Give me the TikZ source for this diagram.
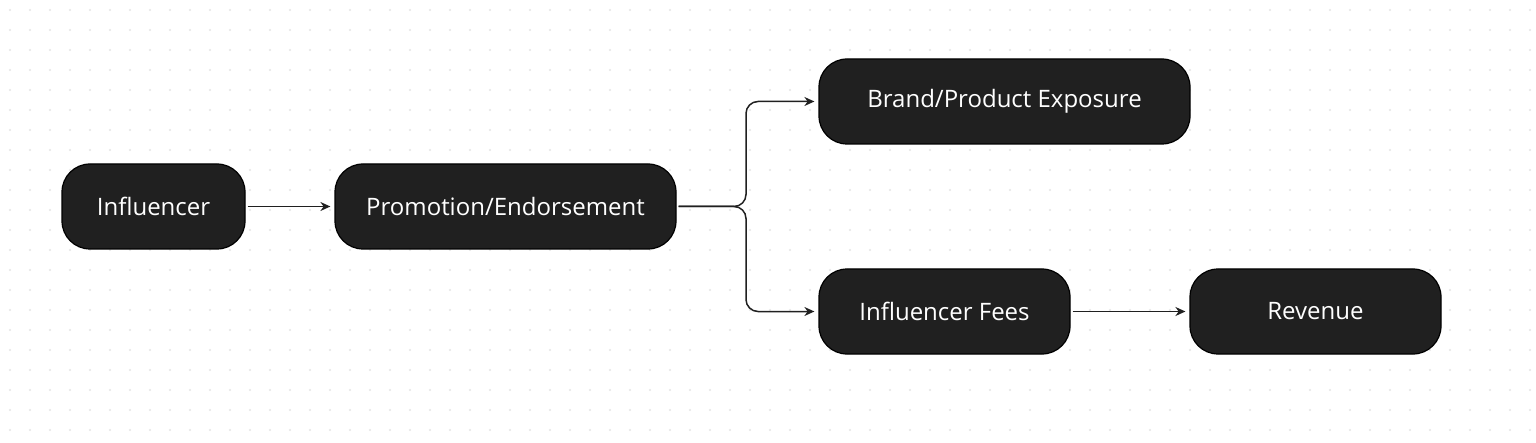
\documentclass[tikz,border=0pt]{standalone}
\usepackage{fontspec}
\setmainfont{Open Sans}
\usetikzlibrary{arrows.meta}
\definecolor{boxfill}{HTML}{202020}
\definecolor{dotc}{HTML}{E4E4E4}
\begin{document}
\begin{tikzpicture}[x=0.5pt,y=-0.5pt,
  box/.style={draw=black,line width=0.6pt,fill=boxfill,rounded corners=14pt,text=white,font=\fontsize{12}{14}\selectfont,minimum height=42.5pt,inner sep=0pt},
  conn/.style={draw=boxfill,line width=0.75pt,-{Stealth[length=5pt,width=4.5pt]}}]
\fill[white] (0,0) rectangle (1536,443);
\useasboundingbox (0,0) rectangle (1536,443);
\foreach \i in {0,...,76}{\foreach \j in {0,...,22}{\fill[dotc] (\i*20+10,\j*20+10) circle (0.6pt);}}
\node[box,minimum width=91.5pt] (inf) at (153.5,206.5) {Influencer};
\node[box,minimum width=170.5pt] (promo) at (505.5,206.5) {Promotion/Endorsement};
\node[box,minimum width=185.5pt] (brand) at (1004.5,101.5) {Brand/Product Exposure};
\node[box,minimum width=125.5pt] (fees) at (944.5,311.5) {Influencer Fees};
\node[box,minimum width=125.5pt] (rev) at (1315.5,311.5) {Revenue};
\draw[conn] ([xshift=1pt]inf.east) -- ([xshift=-2pt]promo.west);
\draw[conn,rounded corners=6pt] ([xshift=1pt]promo.east) -| (746,101.5) -- ([xshift=-2pt]brand.west);
\draw[conn,rounded corners=6pt] ([xshift=1pt]promo.east) -| (746,311.5) -- ([xshift=-2pt]fees.west);
\draw[conn] ([xshift=1pt]fees.east) -- ([xshift=-2pt]rev.west);
\end{tikzpicture}
\end{document}
